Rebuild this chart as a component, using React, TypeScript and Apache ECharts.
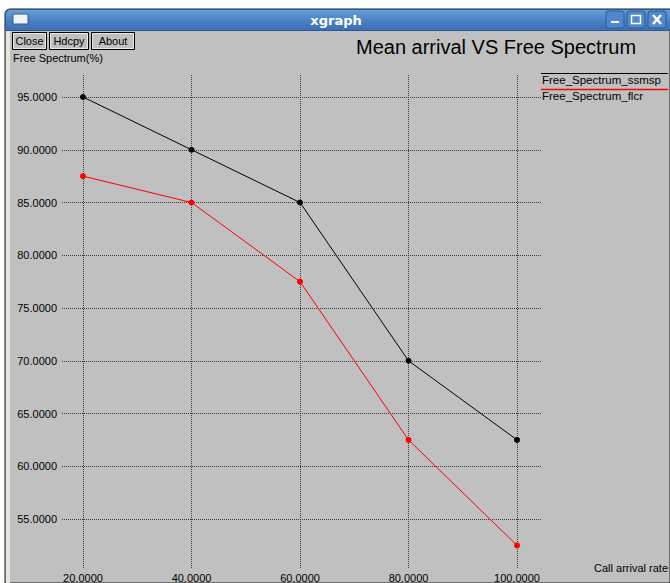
import React, { useEffect, useRef } from "react";
import * as echarts from "echarts";

const xValues = [20, 40, 60, 80, 100];
const ssmsp = [95, 90, 85, 70, 62.5];
const flcr = [87.5, 85, 77.5, 62.5, 52.5];
const xTicks = [20, 40, 60, 80, 100];
const yTicks = [55, 60, 65, 70, 75, 80, 85, 90, 95];
const seriesNames = ["Free_Spectrum_ssmsp", "Free_Spectrum_flcr"];
const seriesColors = ["#000000", "#ff0000"];

const FONT = "'Liberation Sans', Arial, sans-serif";

export default function App() {
  const ref = useRef<HTMLDivElement>(null);
  useEffect(() => {
    if (!ref.current) return;
    const chart = echarts.init(ref.current, null, { renderer: "svg" });
    const gridStyle = { color: "#3a3a3a", width: 1, type: [1, 1] as any };
    const button = (x: number, w: number, label: string) => ({
      type: "group",
      children: [
        { type: "rect", shape: { x: x + 0.5, y: 32.5, width: w, height: 17 }, style: { fill: "#c0c0c0", stroke: "#000", lineWidth: 1 } },
        { type: "rect", shape: { x: x + 1.5, y: 33.5, width: w - 2, height: 15 }, style: { fill: "none", stroke: "#e8e8e8", lineWidth: 1 } },
        { type: "text", x: x + w / 2 + 0.5, y: 41, style: { text: label, fill: "#000", font: `11px ${FONT}`, align: "center", verticalAlign: "middle" } },
      ],
    });
    chart.setOption({
      animation: false,
      backgroundColor: "#ffffff",
      grid: { left: 62, right: 129, top: 75, bottom: 15, containLabel: false, show: false },
      xAxis: {
        type: "value",
        min: 16.13,
        max: 104.42,
        axisLine: { show: false },
        axisTick: { show: false },
        splitLine: { show: false },
        axisLabel: {
          customValues: xTicks,
          formatter: (v: number) => v.toFixed(4),
          color: "#000",
          fontFamily: FONT,
          fontSize: 11,
          margin: 4,
        },
      },
      yAxis: {
        type: "value",
        min: 50.36,
        max: 97.085,
        axisLine: { show: false },
        axisTick: { show: false },
        splitLine: { show: false },
        axisLabel: {
          customValues: yTicks,
          formatter: (v: number) => v.toFixed(4),
          color: "#000",
          fontFamily: FONT,
          fontSize: 11,
          margin: 5,
        },
      },
      graphic: [
        // window chrome
        { type: "rect", z: -10, shape: { x: 5, y: 9, width: 665, height: 574, r: [5, 0, 0, 0] }, style: { fill: "#c0c0c0", stroke: "#1a1a1a", lineWidth: 1 } },
        { type: "rect", z: -9, shape: { x: 6, y: 30, width: 4, height: 553 }, style: { fill: "#e6e6de" } },
        {
          type: "rect", z: -8, shape: { x: 5.5, y: 9.5, width: 665, height: 21, r: [5, 0, 0, 0] },
          style: {
            fill: new echarts.graphic.LinearGradient(0, 0, 0, 1, [
              { offset: 0, color: "#6a9fd8" },
              { offset: 0.5, color: "#4a82c6" },
              { offset: 1, color: "#3c6fb2" },
            ]),
            stroke: "#2d5a94", lineWidth: 1,
          },
        },
        { type: "rect", shape: { x: 13, y: 14, width: 15, height: 10 }, style: { fill: "#f4f4f4", stroke: "#2d5a94", lineWidth: 1 } },
        { type: "text", x: 336, y: 20, style: { text: "xgraph", fill: "#ffffff", font: `bold 13px 'DejaVu Sans', sans-serif`, align: "center", verticalAlign: "middle" } },
        { type: "rect", shape: { x: 606, y: 11, width: 18, height: 17, r: 2 }, style: { fill: "#4f88cc", stroke: "#2d5a94", lineWidth: 1 } },
        { type: "rect", shape: { x: 611, y: 21, width: 8, height: 2 }, style: { fill: "#fff" } },
        { type: "rect", shape: { x: 627, y: 11, width: 18, height: 17, r: 2 }, style: { fill: "#4f88cc", stroke: "#2d5a94", lineWidth: 1 } },
        { type: "rect", shape: { x: 631.5, y: 15.5, width: 9, height: 8 }, style: { fill: "none", stroke: "#fff", lineWidth: 1.5 } },
        { type: "rect", shape: { x: 648, y: 11, width: 18, height: 17, r: 2 }, style: { fill: "#4f88cc", stroke: "#2d5a94", lineWidth: 1 } },
        { type: "line", shape: { x1: 653, y1: 15, x2: 661, y2: 24 }, style: { stroke: "#fff", lineWidth: 2.5 } },
        { type: "line", shape: { x1: 661, y1: 15, x2: 653, y2: 24 }, style: { stroke: "#fff", lineWidth: 2.5 } },
        button(12, 34, "Close"),
        button(49, 39, "Hdcpy"),
        button(91, 43, "About"),
        { type: "text", x: 356, y: 47, style: { text: "Mean arrival VS Free Spectrum", fill: "#000", font: `20px ${FONT}`, verticalAlign: "middle" } },
        { type: "text", x: 13, y: 58, style: { text: "Free Spectrum(%)", fill: "#000", font: `11px ${FONT}`, verticalAlign: "middle" } },
        { type: "text", x: 668, y: 568, style: { text: "Call arrival rate", fill: "#000", font: `11px ${FONT}`, align: "right", verticalAlign: "middle" } },
        // legend
        { type: "line", shape: { x1: 541, y1: 73.5, x2: 668, y2: 73.5 }, style: { stroke: seriesColors[0], lineWidth: 1 } },
        { type: "text", x: 542, y: 79.5, style: { text: seriesNames[0], fill: "#000", font: `11.5px ${FONT}`, verticalAlign: "middle" } },
        { type: "line", shape: { x1: 541, y1: 89.5, x2: 668, y2: 89.5 }, style: { stroke: seriesColors[1], lineWidth: 1.3 } },
        { type: "text", x: 542, y: 96, style: { text: seriesNames[1], fill: "#000", font: `11.5px ${FONT}`, verticalAlign: "middle" } },
      ],
      series: [
        {
          type: "line",
          name: "grid",
          data: [],
          silent: true,
          markLine: {
            symbol: "none",
            silent: true,
            label: { show: false },
            lineStyle: gridStyle,
            emphasis: { disabled: true },
            data: [
              ...xTicks.map((v) => ({ xAxis: v })),
              ...yTicks.map((v) => ({ yAxis: v })),
            ],
          },
        },
        ...[ssmsp, flcr].map((vals, i) => ({
          type: "line",
          name: seriesNames[i],
          data: xValues.map((x, j) => [x, vals[j]]),
          symbol: "circle",
          symbolSize: 6,
          itemStyle: { color: seriesColors[i] },
          lineStyle: { color: seriesColors[i], width: 1 },
          z: 5,
        })),
      ],
    });
    return () => chart.dispose();
  }, []);
  return (
    <div style={{ position: "fixed", left: 0, top: 0, width: 670, height: 583 }}>
      <div ref={ref} style={{ width: 670, height: 583 }} />
    </div>
  );
}
